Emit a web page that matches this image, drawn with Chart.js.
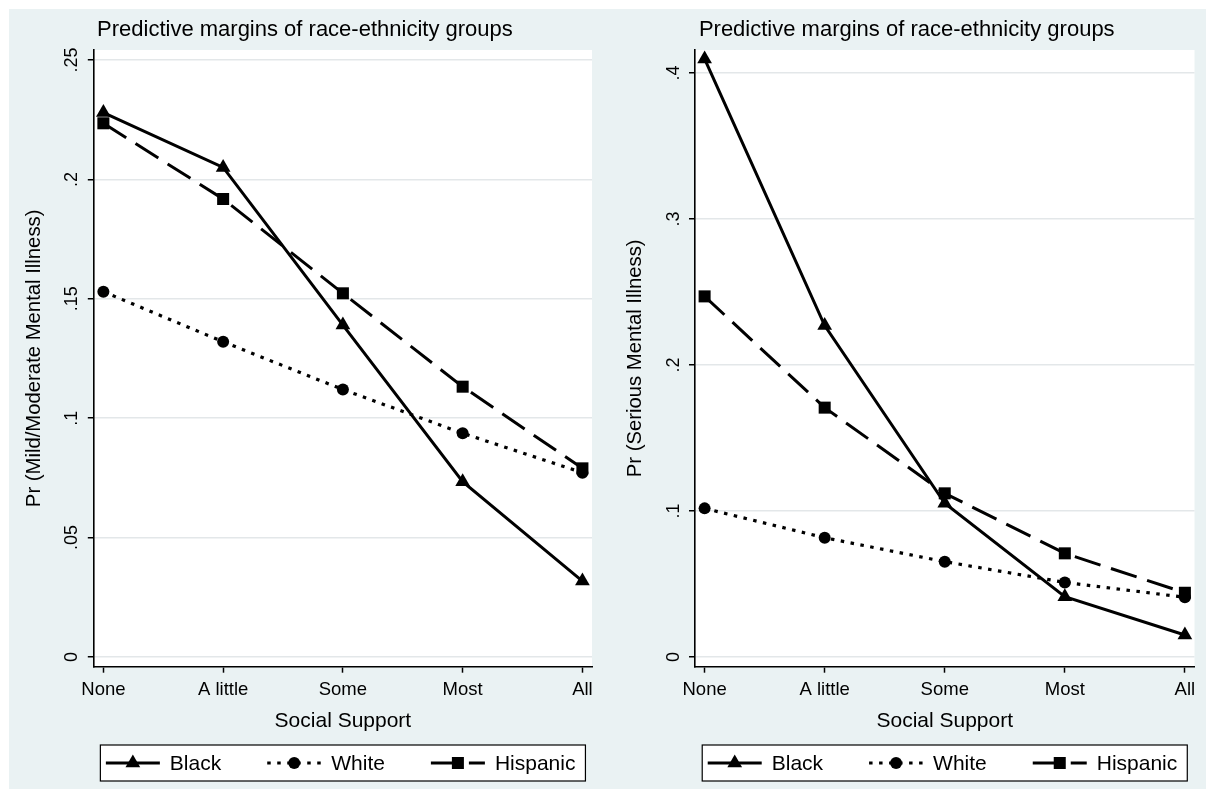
<!DOCTYPE html>
<html><head><meta charset="utf-8">
<script src="https://cdn.jsdelivr.net/npm/chart.js@4.4.1/dist/chart.umd.min.js"></script>
<style>
html,body{margin:0;padding:0;background:#fff;overflow:hidden;}
#bg{position:absolute;left:9px;top:9px;width:1197px;height:780px;background:#EAF2F3;}
.panel{position:absolute;top:0;height:789px;}
#p1{left:0;width:601px;}
#p2{left:601px;width:605px;}
</style></head><body>
<div id="bg"></div>
<div class="panel" id="p1"><canvas id="c1"></canvas></div>
<div class="panel" id="p2"><canvas id="c2"></canvas></div>
<script>
// ---- data ----
const categories = ['None', 'A little', 'Some', 'Most', 'All'];
const seriesNames = ['Black', 'White', 'Hispanic'];
const mildBlack    = [0.228, 0.205, 0.139, 0.0734, 0.0318];
const mildWhite    = [0.153, 0.132, 0.112, 0.0937, 0.0772];
const mildHispanic = [0.2235, 0.1918, 0.1523, 0.1132, 0.079];
const seriousBlack    = [0.4096, 0.227, 0.1053, 0.0413, 0.0151];
const seriousWhite    = [0.1018, 0.0817, 0.0653, 0.0511, 0.0409];
const seriousHispanic = [0.247, 0.1708, 0.1121, 0.071, 0.044];
const mildTicks = [0, 0.05, 0.1, 0.15, 0.2, 0.25];
const mildTickLabels = ['0', '.05', '.1', '.15', '.2', '.25'];
const seriousTicks = [0, 0.1, 0.2, 0.3, 0.4];
const seriousTickLabels = ['0', '.1', '.2', '.3', '.4'];
const chartTitle = 'Predictive margins of race-ethnicity groups';
const xTitle = 'Social Support';
const mildYTitle = 'Pr (Mild/Moderate Mental Illness)';
const seriousYTitle = 'Pr (Serious Mental Illness)';

const FAM = "'Liberation Sans', Arial, Helvetica, sans-serif";
Chart.defaults.font.family = FAM;
Chart.defaults.color = '#000';

const styles = [
  {borderDash: [], borderWidth: 3, pointStyle: 'triangle', pointRadius: 8.5},
  {borderDash: [3.5, 6.5], borderWidth: 3.2, pointStyle: 'circle', pointRadius: 6},
  {borderDash: [27, 11], borderWidth: 3, pointStyle: 'rect', pointRadius: 8.5}
];

function makeDatasets(seriesArrays) {
  return seriesArrays.map((vals, k) => ({
    label: seriesNames[k],
    data: vals.map((v, i) => ({x: i, y: v})),
    borderColor: '#000',
    backgroundColor: '#000',
    pointBackgroundColor: '#000',
    pointBorderColor: '#000',
    pointBorderWidth: 0,
    pointHoverRadius: styles[k].pointRadius,
    borderWidth: styles[k].borderWidth,
    borderDash: styles[k].borderDash,
    borderCapStyle: 'butt',
    pointStyle: styles[k].pointStyle,
    pointRadius: styles[k].pointRadius,
    tension: 0,
    clip: false
  }));
}

const decoPlugin = {
  id: 'deco',
  beforeDraw(chart) {
    const {ctx, chartArea: a} = chart;
    ctx.save();
    ctx.fillStyle = '#fff';
    ctx.fillRect(a.left, a.top, a.right - a.left, a.bottom - a.top);
    ctx.restore();
  },
  afterDraw(chart) {
    const {ctx, chartArea: a} = chart;
    const cx = (a.left + a.right) / 2;
    ctx.save();
    // title
    ctx.fillStyle = '#000';
    ctx.font = '22px ' + FAM;
    ctx.textAlign = 'center';
    ctx.textBaseline = 'middle';
    ctx.fillText(chartTitle, cx - 38, 30);
    // legend
    ctx.font = '21px ' + FAM;
    const sampleW = 54, gapST = 10, colGap = 46, padL = 5.5, padR = 10;
    const widths = seriesNames.map(n => ctx.measureText(n).width);
    let total = padL + padR;
    widths.forEach((w, i) => { total += sampleW + gapST + w + (i < widths.length - 1 ? colGap : 0); });
    const bx = cx - total / 2, by = 745, bh = 36;
    ctx.fillStyle = '#fff';
    ctx.fillRect(bx, by, total, bh);
    ctx.strokeStyle = '#000';
    ctx.lineWidth = 1.2;
    ctx.strokeRect(bx, by, total, bh);
    const ly = by + bh / 2;
    let x = bx + padL;
    chart.data.datasets.forEach((ds, i) => {
      ctx.save();
      ctx.strokeStyle = '#000';
      ctx.lineWidth = ds.borderWidth;
      ctx.lineCap = 'butt';
      ctx.setLineDash(ds.borderDash || []);
      ctx.beginPath();
      ctx.moveTo(x, ly);
      ctx.lineTo(x + sampleW, ly);
      ctx.stroke();
      ctx.restore();
      ctx.fillStyle = '#000';
      ctx.strokeStyle = '#000';
      Chart.helpers.drawPoint(ctx, {pointStyle: ds.pointStyle, radius: ds.pointRadius, borderWidth: 0, rotation: 0}, x + sampleW / 2, ly);
      ctx.fillStyle = '#000';
      ctx.textAlign = 'left';
      ctx.textBaseline = 'middle';
      ctx.fillText(ds.label, x + sampleW + gapST, ly + 1);
      x += sampleW + gapST + widths[i] + colGap;
    });
    ctx.restore();
  }
};

function makeChart(id, seriesArrays, yTicks, yLabels, yMin, yMax, yTitle, yWidth, tickPad, padRight) {
  return new Chart(document.getElementById(id), {
    type: 'line',
    data: {datasets: makeDatasets(seriesArrays)},
    options: {
      responsive: true,
      maintainAspectRatio: false,
      animation: false,
      events: [],
      layout: {padding: {left: 0, top: 50, right: padRight, bottom: 52.3}},
      plugins: {legend: {display: false}, title: {display: false}, tooltip: {enabled: false}},
      scales: {
        x: {
          type: 'linear',
          min: -0.08,
          max: 4.08,
          afterBuildTicks: s => { s.ticks = categories.map((c, i) => ({value: i})); },
          afterFit: s => { s.height = 70; },
          ticks: {
            callback: v => categories[v],
            font: {size: 18.5},
            color: '#000',
            padding: 6,
            maxRotation: 0,
            autoSkip: false
          },
          grid: {drawOnChartArea: false, drawTicks: true, tickLength: 6, tickColor: '#000', tickWidth: 1.5},
          border: {display: true, color: '#000', width: 1.6},
          title: {display: true, text: xTitle, font: {size: 21}, color: '#000', padding: {top: 0, bottom: 2.5}}
        },
        y: {
          min: yMin,
          max: yMax,
          afterBuildTicks: s => { s.ticks = yTicks.map(v => ({value: v})); },
          afterFit: s => { s.width = yWidth; },
          ticks: {
            callback: (v, i) => yLabels[i],
            font: {size: 18},
            color: '#000',
            minRotation: 90,
            maxRotation: 90,
            crossAlign: 'center',
            padding: tickPad,
            autoSkip: false
          },
          grid: {color: '#e3e7e9', lineWidth: 1.5, drawTicks: true, tickLength: 6, tickColor: '#000', tickWidth: 1.5},
          border: {display: true, color: '#000', width: 1.6},
          title: {display: true, text: yTitle, font: {size: 20.3}, color: '#000', padding: {top: 22.5, bottom: 0}}
        }
      }
    },
    plugins: [decoPlugin]
  });
}

makeChart('c1', [mildBlack, mildWhite, mildHispanic], mildTicks, mildTickLabels,
  -0.00406, 0.25419, mildYTitle, 93.8, 2.8, 9);
makeChart('c2', [seriousBlack, seriousWhite, seriousHispanic], seriousTicks, seriousTickLabels,
  -0.00664, 0.41575, seriousYTitle, 94, 7.5, 11.5);
</script>
</body></html>
